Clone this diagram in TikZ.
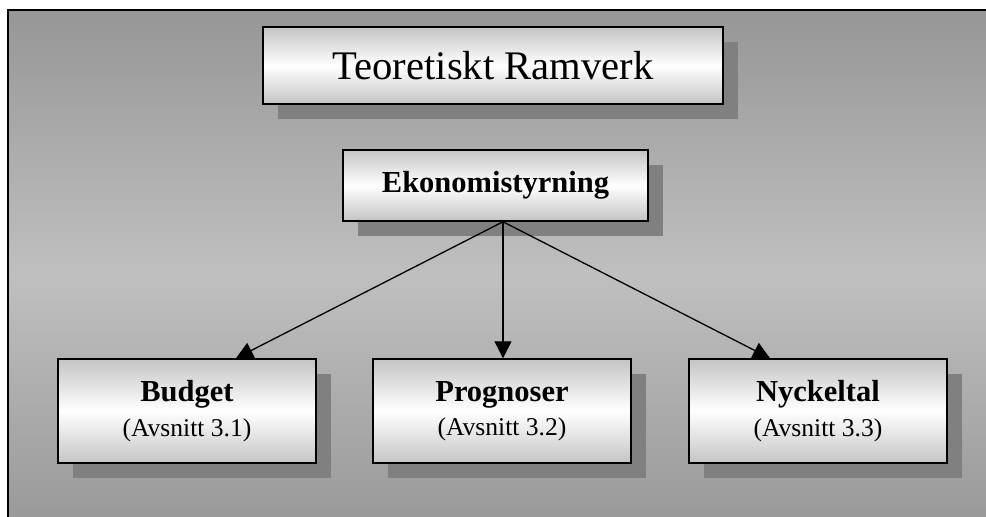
\documentclass[tikz,border=0pt]{standalone}
\usepackage{fontspec}
\setmainfont{Liberation Serif}
\usetikzlibrary{arrows.meta,shadows}
\definecolor{bgdark}{gray}{0.59}
\definecolor{bglight}{gray}{0.75}
\definecolor{boxgray}{gray}{0.77}
\definecolor{shadowgray}{gray}{0.5}
\newcommand{\delbox}[2]% title, section
{{\fontsize{30.5}{32}\selectfont\bfseries #1}\\[9pt]
{\fontsize{25.6}{32}\selectfont (Avsnitt #2)}
}

\begin{document}
\begin{tikzpicture}[x=1pt,y=-1pt,
  box/.style={draw,line width=1.5pt,inner sep=0pt,align=center,
    top color=boxgray,bottom color=boxgray,middle color=white,
    drop shadow={shadow xshift=15pt,shadow yshift=-15pt,fill=shadowgray,opacity=1}},
  pil/.style={line width=1.3pt,-{Triangle[length=17pt,width=17pt]}}]
\clip (0,0) rectangle (986,517);
\fill[white] (0,0) rectangle (986,517);
\draw[line width=2pt,top color=bgdark,bottom color=bgdark,middle color=bglight] (8,10) rectangle (1000,540);
\node[box,minimum width=460,minimum height=77] (ram) at (493,65.5) {\fontsize{40.6}{48}\selectfont Teoretiskt Ramverk};
\node[box,minimum width=305,minimum height=71] (eko) at (495.5,185.5) {\fontsize{30.5}{36}\selectfont\bfseries Ekonomistyrning};
\node[box,minimum width=258,minimum height=104] (budget) at (187,411) {\delbox{Budget}{3.1}};
\node[box,minimum width=258,minimum height=104] (prog) at (502,411) {\delbox{Prognoser}{3.2}};
\node[box,minimum width=258,minimum height=104] (nyck) at (818,411) {\delbox{Nyckeltal}{3.3}};
\coordinate (hub) at ([xshift=7.5pt]eko.south);
\draw[pil] (hub) -- ([xshift=49pt]budget.north);
\draw[pil] (hub) -- ([xshift=1pt]prog.north);
\draw[pil] (hub) -- ([xshift=-48pt]nyck.north);
\end{tikzpicture}
\end{document}
